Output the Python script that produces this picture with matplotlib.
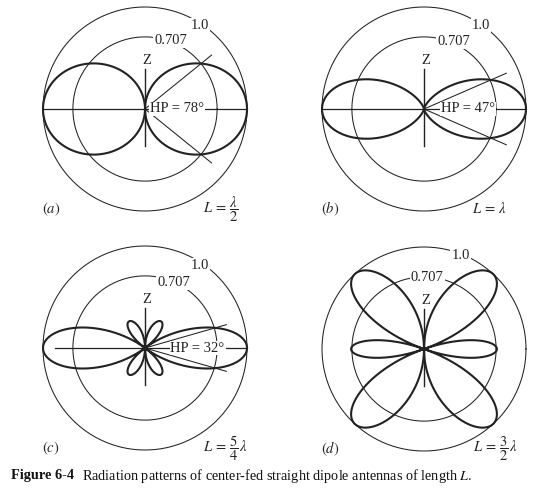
import numpy as np
import matplotlib
matplotlib.use("Agg")
import matplotlib.pyplot as plt

plt.rcParams['font.family'] = ['Liberation Serif', 'DejaVu Serif']
plt.rcParams['mathtext.fontset'] = 'stix'

# dipole lengths in wavelengths, one per panel
panel_tags = ['a', 'b', 'c', 'd']
lengths = [0.5, 1.0, 1.25, 1.5]
hp_angles = [78, 47, 32, None]
length_labels = [r'$L\,=\,\dfrac{\lambda}{2}$', r'$L\,=\,\lambda$',
                 r'$L\,=\,\dfrac{5}{4}\,\lambda$', r'$L\,=\,\dfrac{3}{2}\,\lambda$']
ring_values = [1.0, 0.707]
ring_labels = ['1.0', '0.707']

# layout (pixels in a 538x495 figure)
W, H = 538, 495
R = 102
centers = [(145, 109), (424, 109), (145, 348), (424, 349)]
ring_label_pos = [[(0.54, 0.82), (0.25, 0.67)],
                  [(0.56, 0.82), (0.29, 0.66)],
                  [(0.54, 0.81), (0.28, 0.64)],
                  [(0.36, 0.92), (0.03, 0.70)]]
hline_ext = [(-1.0, 1.0), (-1.0, 1.0), (-0.88, 1.0), None]
hp_len = [0.84, 0.88, 0.83]
hp_text_x = [0.05, 0.17, 0.25]
len_label_x = [0.57, 0.47, 0.57, 0.48]

ink = '#222222'
fs = 10.5

fig = plt.figure(figsize=(W / 100, H / 100), dpi=100)

half = 130
for i, (cx, cy) in enumerate(centers):
    ax = fig.add_axes([(cx - half) / W, (H - cy - half) / H, 2 * half / W, 2 * half / H])
    lim = half / R
    ax.set_xlim(-lim, lim)
    ax.set_ylim(-lim, lim)
    ax.axis('off')

    # reference circles
    t = np.linspace(0, 2 * np.pi, 400)
    for rv in ring_values:
        ax.plot(rv * np.cos(t), rv * np.sin(t), color=ink, lw=0.75)

    # radiation pattern, theta measured from the Z axis
    th = np.linspace(1e-6, 2 * np.pi - 1e-6, 4001)
    kl = np.pi * lengths[i]
    s = np.sin(th)
    s = np.where(np.abs(s) < 1e-9, 1e-9, s)
    e = np.abs((np.cos(kl * np.cos(th)) - np.cos(kl)) / s)
    e = e / e.max()
    ax.plot(e * np.sin(th), e * np.cos(th), color=ink, lw=1.5)

    # Z axis
    ax.plot([0, 0], [-0.36, 0.39], color=ink, lw=1.0)
    ax.text(0.02, 0.48, 'Z', ha='center', va='center', fontsize=fs, color=ink)

    if hline_ext[i] is not None:
        ax.plot(list(hline_ext[i]), [0, 0], color=ink, lw=0.9)

    if hp_angles[i] is not None:
        a = np.radians(hp_angles[i] / 2)
        L = hp_len[i]
        for sgn in (1, -1):
            ax.plot([0, L * np.cos(a)], [0, sgn * L * np.sin(a)], color=ink, lw=0.75)
        ax.text(hp_text_x[i], 0, 'HP = %d°' % hp_angles[i], ha='left', va='center',
                fontsize=fs, color=ink,
                bbox=dict(fc='white', ec='none', pad=0.6))

    for lbl, (lx, ly) in zip(ring_labels, ring_label_pos[i]):
        ax.text(lx, ly, lbl, ha='center', va='center', fontsize=fs, color=ink,
                bbox=dict(fc='white', ec='none', pad=0.8))

    ax.text(-0.92, -0.98, r'$(%s)$' % panel_tags[i], ha='center', va='center',
            fontsize=fs, color=ink)
    ax.text(len_label_x[i], -0.98, length_labels[i], ha='left', va='center',
            fontsize=fs, color=ink)

fig.text(11 / W, 1 - 476 / H, 'Figure 6-4', fontweight='bold', fontsize=10.3,
         ha='left', va='center', color='#111111')
fig.text(82 / W, 1 - 476 / H,
         r'Radiation patterns of center-fed straight dipole antennas of length $L$.',
         fontsize=10.3, ha='left', va='center', color='#111111')

fig.savefig('out.png', dpi=100, facecolor='white')
